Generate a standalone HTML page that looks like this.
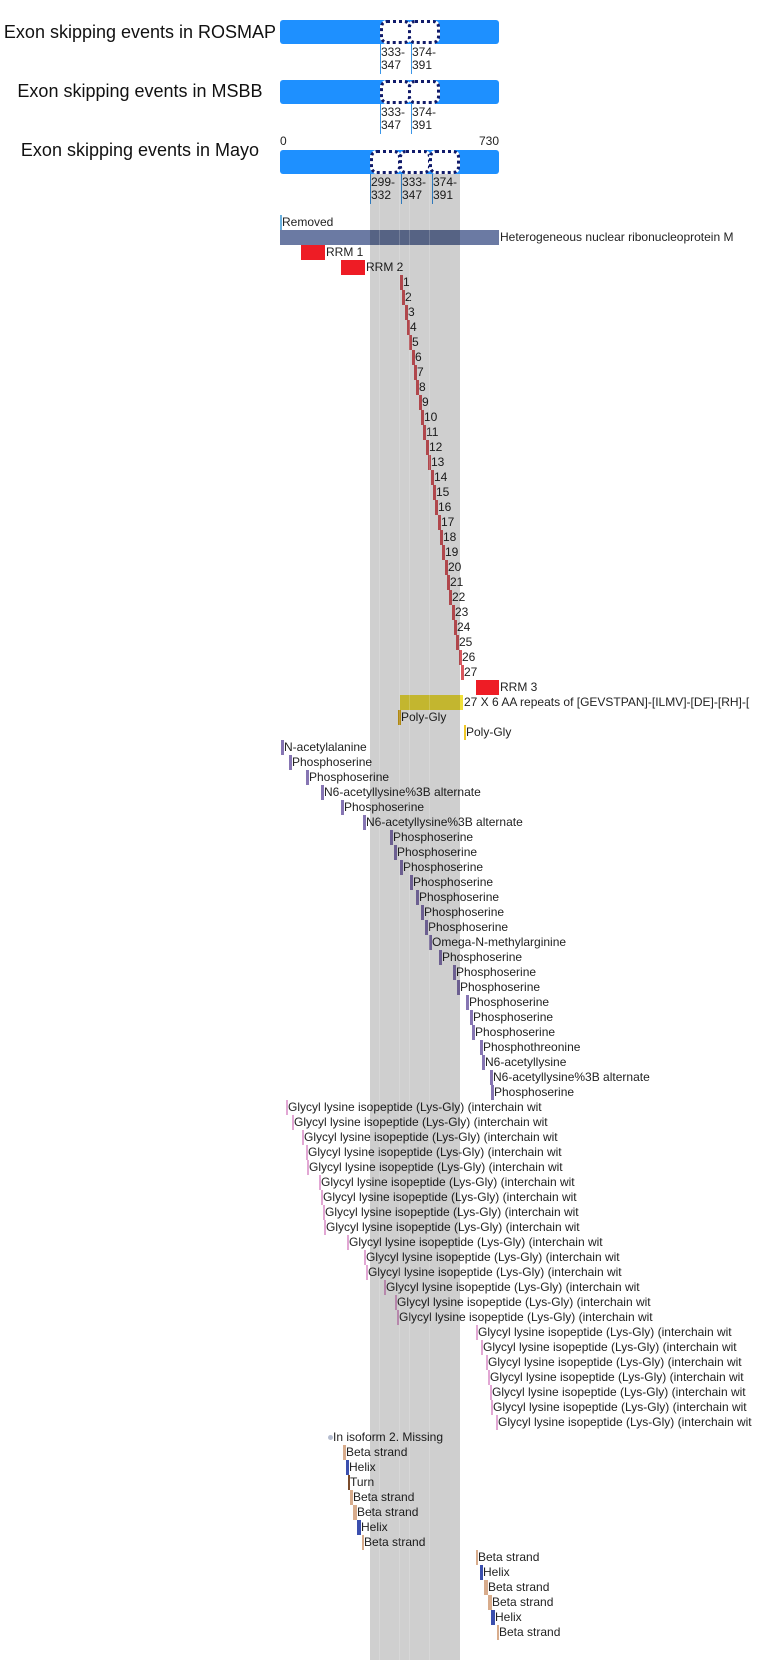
<!DOCTYPE html>
<html><head><meta charset="utf-8">
<style>
body{margin:0;background:#fff;}
#c{position:relative;width:759px;height:1660px;overflow:hidden;font-family:"Liberation Sans",Arial,sans-serif;color:#222;}
#c div{position:absolute;}
.t{font-size:12px;line-height:15px;height:15px;white-space:nowrap;}
.k{height:15px;width:3px;}
.h{font-size:18px;line-height:22px;width:280px;text-align:center;left:0;color:#111;}
.bar{background:#1e90ff;border-radius:3px;left:280px;width:219px;height:24px;}
.bx{background:#fff;border:3px dotted #101a6a;border-radius:7px;box-sizing:border-box;height:24px;}
.ln{width:1px;background:#3a96e8;}
.lb{font-size:12px;line-height:13px;}
.r{background:#d9585e;}
.p{background:#8675b3;}
.g{background:#e2a7d4;width:2px;}
.be{background:#d8ac8c;}
.he{background:#3b4fae;}
.tu{background:#7a4b2b;}
</style></head><body><div id="c">

<div class="h" style="top:21px">Exon skipping events in ROSMAP</div>
<div class="h" style="top:80px">Exon skipping events in MSBB</div>
<div class="h" style="top:139px">Exon skipping events in Mayo</div>

<!-- ROSMAP -->
<div class="bar" style="top:20px"></div>
<div class="bx" style="left:380px;top:20px;width:31px"></div>
<div class="bx" style="left:408px;top:20px;width:32px"></div>
<div class="ln" style="left:380px;top:44px;height:30px"></div>
<div class="ln" style="left:411px;top:44px;height:30px"></div>
<div class="lb" style="left:381px;top:46px">333-<br>347</div>
<div class="lb" style="left:412px;top:46px">374-<br>391</div>

<!-- MSBB -->
<div class="bar" style="top:80px"></div>
<div class="bx" style="left:380px;top:80px;width:31px"></div>
<div class="bx" style="left:408px;top:80px;width:32px"></div>
<div class="ln" style="left:380px;top:104px;height:30px"></div>
<div class="ln" style="left:411px;top:104px;height:30px"></div>
<div class="lb" style="left:381px;top:106px">333-<br>347</div>
<div class="lb" style="left:412px;top:106px">374-<br>391</div>

<!-- Mayo -->
<div class="t" style="left:280px;top:134px">0</div>
<div class="t" style="left:459px;top:134px;width:40px;text-align:right">730</div>
<div class="bar" style="top:150px"></div>
<div class="bx" style="left:370px;top:150px;width:31px"></div>
<div class="bx" style="left:399px;top:150px;width:32px"></div>
<div class="bx" style="left:429px;top:150px;width:31px"></div>
<div class="ln" style="left:370px;top:174px;height:30px"></div>
<div class="ln" style="left:401px;top:174px;height:30px"></div>
<div class="ln" style="left:432px;top:174px;height:30px"></div>
<div class="lb" style="left:371px;top:176px">299-<br>332</div>
<div class="lb" style="left:402px;top:176px">333-<br>347</div>
<div class="lb" style="left:433px;top:176px">374-<br>391</div>

<!-- domains -->
<div class="k" style="left:280px;top:215px;width:2px;background:#6ab0de"></div>
<div class="t" style="left:282px;top:215px">Removed</div>
<div style="left:280px;top:230px;width:219px;height:15px;background:#6b7aa3"></div>
<div class="t" style="left:500px;top:230px">Heterogeneous nuclear ribonucleoprotein M</div>
<div style="left:301px;top:245px;width:24px;height:15px;background:#ee1c25"></div>
<div class="t" style="left:326px;top:245px">RRM 1</div>
<div style="left:341px;top:260px;width:24px;height:15px;background:#ee1c25"></div>
<div class="t" style="left:366px;top:260px">RRM 2</div>

<div class="k r" style="left:400px;top:275px"></div><div class="t" style="left:403px;top:275px">1</div>
<div class="k r" style="left:402px;top:290px"></div><div class="t" style="left:405px;top:290px">2</div>
<div class="k r" style="left:405px;top:305px"></div><div class="t" style="left:408px;top:305px">3</div>
<div class="k r" style="left:407px;top:320px"></div><div class="t" style="left:410px;top:320px">4</div>
<div class="k r" style="left:409px;top:335px"></div><div class="t" style="left:412px;top:335px">5</div>
<div class="k r" style="left:412px;top:350px"></div><div class="t" style="left:415px;top:350px">6</div>
<div class="k r" style="left:414px;top:365px"></div><div class="t" style="left:417px;top:365px">7</div>
<div class="k r" style="left:416px;top:380px"></div><div class="t" style="left:419px;top:380px">8</div>
<div class="k r" style="left:419px;top:395px"></div><div class="t" style="left:422px;top:395px">9</div>
<div class="k r" style="left:421px;top:410px"></div><div class="t" style="left:424px;top:410px">10</div>
<div class="k r" style="left:423px;top:425px"></div><div class="t" style="left:426px;top:425px">11</div>
<div class="k r" style="left:426px;top:440px"></div><div class="t" style="left:429px;top:440px">12</div>
<div class="k r" style="left:428px;top:455px"></div><div class="t" style="left:431px;top:455px">13</div>
<div class="k r" style="left:431px;top:470px"></div><div class="t" style="left:434px;top:470px">14</div>
<div class="k r" style="left:433px;top:485px"></div><div class="t" style="left:436px;top:485px">15</div>
<div class="k r" style="left:435px;top:500px"></div><div class="t" style="left:438px;top:500px">16</div>
<div class="k r" style="left:438px;top:515px"></div><div class="t" style="left:441px;top:515px">17</div>
<div class="k r" style="left:440px;top:530px"></div><div class="t" style="left:443px;top:530px">18</div>
<div class="k r" style="left:442px;top:545px"></div><div class="t" style="left:445px;top:545px">19</div>
<div class="k r" style="left:445px;top:560px"></div><div class="t" style="left:448px;top:560px">20</div>
<div class="k r" style="left:447px;top:575px"></div><div class="t" style="left:450px;top:575px">21</div>
<div class="k r" style="left:449px;top:590px"></div><div class="t" style="left:452px;top:590px">22</div>
<div class="k r" style="left:452px;top:605px"></div><div class="t" style="left:455px;top:605px">23</div>
<div class="k r" style="left:454px;top:620px"></div><div class="t" style="left:457px;top:620px">24</div>
<div class="k r" style="left:456px;top:635px"></div><div class="t" style="left:459px;top:635px">25</div>
<div class="k r" style="left:459px;top:650px"></div><div class="t" style="left:462px;top:650px">26</div>
<div class="k r" style="left:461px;top:665px"></div><div class="t" style="left:464px;top:665px">27</div>

<div style="left:476px;top:680px;width:23px;height:15px;background:#ee1c25"></div>
<div class="t" style="left:500px;top:680px">RRM 3</div>
<div style="left:400px;top:695px;width:63px;height:15px;background:#f0e03a"></div>
<div class="t" style="left:464px;top:695px">27 X 6 AA repeats of [GEVSTPAN]-[ILMV]-[DE]-[RH]-[</div>
<div class="k" style="left:398px;top:710px;background:#d9a814"></div>
<div class="t" style="left:401px;top:710px">Poly-Gly</div>
<div class="k" style="left:464px;top:725px;width:2px;background:#f0c828"></div>
<div class="t" style="left:466px;top:725px">Poly-Gly</div>

<!-- PTMs -->
<div class="k p" style="left:281px;top:740px"></div><div class="t" style="left:284px;top:740px">N-acetylalanine</div>
<div class="k p" style="left:289px;top:755px"></div><div class="t" style="left:292px;top:755px">Phosphoserine</div>
<div class="k p" style="left:306px;top:770px"></div><div class="t" style="left:309px;top:770px">Phosphoserine</div>
<div class="k p" style="left:321px;top:785px"></div><div class="t" style="left:324px;top:785px">N6-acetyllysine%3B alternate</div>
<div class="k p" style="left:341px;top:800px"></div><div class="t" style="left:344px;top:800px">Phosphoserine</div>
<div class="k p" style="left:363px;top:815px"></div><div class="t" style="left:366px;top:815px">N6-acetyllysine%3B alternate</div>
<div class="k p" style="left:390px;top:830px"></div><div class="t" style="left:393px;top:830px">Phosphoserine</div>
<div class="k p" style="left:394px;top:845px"></div><div class="t" style="left:397px;top:845px">Phosphoserine</div>
<div class="k p" style="left:400px;top:860px"></div><div class="t" style="left:403px;top:860px">Phosphoserine</div>
<div class="k p" style="left:410px;top:875px"></div><div class="t" style="left:413px;top:875px">Phosphoserine</div>
<div class="k p" style="left:416px;top:890px"></div><div class="t" style="left:419px;top:890px">Phosphoserine</div>
<div class="k p" style="left:421px;top:905px"></div><div class="t" style="left:424px;top:905px">Phosphoserine</div>
<div class="k p" style="left:425px;top:920px"></div><div class="t" style="left:428px;top:920px">Phosphoserine</div>
<div class="k p" style="left:429px;top:935px"></div><div class="t" style="left:432px;top:935px">Omega-N-methylarginine</div>
<div class="k p" style="left:439px;top:950px"></div><div class="t" style="left:442px;top:950px">Phosphoserine</div>
<div class="k p" style="left:453px;top:965px"></div><div class="t" style="left:456px;top:965px">Phosphoserine</div>
<div class="k p" style="left:457px;top:980px"></div><div class="t" style="left:460px;top:980px">Phosphoserine</div>
<div class="k p" style="left:466px;top:995px"></div><div class="t" style="left:469px;top:995px">Phosphoserine</div>
<div class="k p" style="left:470px;top:1010px"></div><div class="t" style="left:473px;top:1010px">Phosphoserine</div>
<div class="k p" style="left:472px;top:1025px"></div><div class="t" style="left:475px;top:1025px">Phosphoserine</div>
<div class="k p" style="left:480px;top:1040px"></div><div class="t" style="left:483px;top:1040px">Phosphothreonine</div>
<div class="k p" style="left:482px;top:1055px"></div><div class="t" style="left:485px;top:1055px">N6-acetyllysine</div>
<div class="k p" style="left:490px;top:1070px"></div><div class="t" style="left:493px;top:1070px">N6-acetyllysine%3B alternate</div>
<div class="k p" style="left:491px;top:1085px"></div><div class="t" style="left:494px;top:1085px">Phosphoserine</div>

<!-- Glycyl -->
<div class="k g" style="left:286px;top:1100px"></div><div class="t" style="left:288px;top:1100px">Glycyl lysine isopeptide (Lys-Gly) (interchain wit</div>
<div class="k g" style="left:292px;top:1115px"></div><div class="t" style="left:294px;top:1115px">Glycyl lysine isopeptide (Lys-Gly) (interchain wit</div>
<div class="k g" style="left:302px;top:1130px"></div><div class="t" style="left:304px;top:1130px">Glycyl lysine isopeptide (Lys-Gly) (interchain wit</div>
<div class="k g" style="left:306px;top:1145px"></div><div class="t" style="left:308px;top:1145px">Glycyl lysine isopeptide (Lys-Gly) (interchain wit</div>
<div class="k g" style="left:307px;top:1160px"></div><div class="t" style="left:309px;top:1160px">Glycyl lysine isopeptide (Lys-Gly) (interchain wit</div>
<div class="k g" style="left:319px;top:1175px"></div><div class="t" style="left:321px;top:1175px">Glycyl lysine isopeptide (Lys-Gly) (interchain wit</div>
<div class="k g" style="left:321px;top:1190px"></div><div class="t" style="left:323px;top:1190px">Glycyl lysine isopeptide (Lys-Gly) (interchain wit</div>
<div class="k g" style="left:323px;top:1205px"></div><div class="t" style="left:325px;top:1205px">Glycyl lysine isopeptide (Lys-Gly) (interchain wit</div>
<div class="k g" style="left:324px;top:1220px"></div><div class="t" style="left:326px;top:1220px">Glycyl lysine isopeptide (Lys-Gly) (interchain wit</div>
<div class="k g" style="left:347px;top:1235px"></div><div class="t" style="left:349px;top:1235px">Glycyl lysine isopeptide (Lys-Gly) (interchain wit</div>
<div class="k g" style="left:364px;top:1250px"></div><div class="t" style="left:366px;top:1250px">Glycyl lysine isopeptide (Lys-Gly) (interchain wit</div>
<div class="k g" style="left:366px;top:1265px"></div><div class="t" style="left:368px;top:1265px">Glycyl lysine isopeptide (Lys-Gly) (interchain wit</div>
<div class="k g" style="left:384px;top:1280px"></div><div class="t" style="left:386px;top:1280px">Glycyl lysine isopeptide (Lys-Gly) (interchain wit</div>
<div class="k g" style="left:395px;top:1295px"></div><div class="t" style="left:397px;top:1295px">Glycyl lysine isopeptide (Lys-Gly) (interchain wit</div>
<div class="k g" style="left:397px;top:1310px"></div><div class="t" style="left:399px;top:1310px">Glycyl lysine isopeptide (Lys-Gly) (interchain wit</div>
<div class="k g" style="left:476px;top:1325px"></div><div class="t" style="left:478px;top:1325px">Glycyl lysine isopeptide (Lys-Gly) (interchain wit</div>
<div class="k g" style="left:481px;top:1340px"></div><div class="t" style="left:483px;top:1340px">Glycyl lysine isopeptide (Lys-Gly) (interchain wit</div>
<div class="k g" style="left:486px;top:1355px"></div><div class="t" style="left:488px;top:1355px">Glycyl lysine isopeptide (Lys-Gly) (interchain wit</div>
<div class="k g" style="left:488px;top:1370px"></div><div class="t" style="left:490px;top:1370px">Glycyl lysine isopeptide (Lys-Gly) (interchain wit</div>
<div class="k g" style="left:490px;top:1385px"></div><div class="t" style="left:492px;top:1385px">Glycyl lysine isopeptide (Lys-Gly) (interchain wit</div>
<div class="k g" style="left:491px;top:1400px"></div><div class="t" style="left:493px;top:1400px">Glycyl lysine isopeptide (Lys-Gly) (interchain wit</div>
<div class="k g" style="left:496px;top:1415px"></div><div class="t" style="left:498px;top:1415px">Glycyl lysine isopeptide (Lys-Gly) (interchain wit</div>

<!-- isoform / structure -->
<div style="left:328px;top:1435px;width:5px;height:5px;border-radius:50%;background:#b4bccf"></div>
<div class="t" style="left:333px;top:1430px">In isoform 2. Missing</div>
<div class="k be" style="left:343px;top:1445px"></div><div class="t" style="left:346px;top:1445px">Beta strand</div>
<div class="k he" style="left:346px;top:1460px"></div><div class="t" style="left:349px;top:1460px">Helix</div>
<div class="k tu" style="left:348px;top:1475px;width:2px"></div><div class="t" style="left:350px;top:1475px">Turn</div>
<div class="k be" style="left:350px;top:1490px"></div><div class="t" style="left:353px;top:1490px">Beta strand</div>
<div class="k be" style="left:353px;top:1505px;width:4px"></div><div class="t" style="left:357px;top:1505px">Beta strand</div>
<div class="k he" style="left:357px;top:1520px;width:4px"></div><div class="t" style="left:361px;top:1520px">Helix</div>
<div class="k be" style="left:362px;top:1535px;width:2px"></div><div class="t" style="left:364px;top:1535px">Beta strand</div>
<div class="k be" style="left:476px;top:1550px;width:2px"></div><div class="t" style="left:478px;top:1550px">Beta strand</div>
<div class="k he" style="left:480px;top:1565px"></div><div class="t" style="left:483px;top:1565px">Helix</div>
<div class="k be" style="left:484px;top:1580px;width:4px"></div><div class="t" style="left:488px;top:1580px">Beta strand</div>
<div class="k be" style="left:488px;top:1595px;width:4px"></div><div class="t" style="left:492px;top:1595px">Beta strand</div>
<div class="k he" style="left:491px;top:1610px;width:4px"></div><div class="t" style="left:495px;top:1610px">Helix</div>
<div class="k be" style="left:497px;top:1625px;width:2px"></div><div class="t" style="left:499px;top:1625px">Beta strand</div>

<!-- grey overlay band -->
<div style="left:370px;top:174px;width:90px;height:1486px;background:rgba(0,0,0,0.19)"></div>
<div style="left:379px;top:174px;width:1px;height:1486px;background:rgba(255,255,255,0.18)"></div>
<div style="left:399px;top:174px;width:1px;height:1486px;background:rgba(255,255,255,0.18)"></div>
<div style="left:409px;top:174px;width:1px;height:1486px;background:rgba(255,255,255,0.18)"></div>
<div style="left:429px;top:174px;width:1px;height:1486px;background:rgba(255,255,255,0.18)"></div>

</div></body></html>
